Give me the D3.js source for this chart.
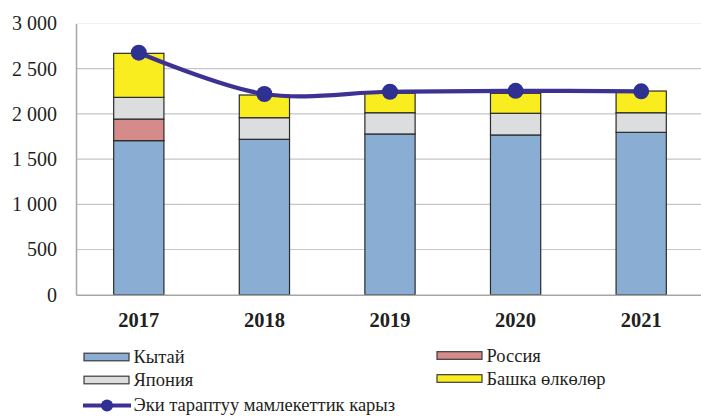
<!DOCTYPE html>
<html>
<head>
<meta charset="utf-8">
<script src="https://cdn.jsdelivr.net/npm/d3@7/dist/d3.min.js"></script>
<style>
  html, body { margin: 0; padding: 0; background: #fff; }
  svg { display: block; }
  text { font-family: "Liberation Serif", "Times New Roman", "DejaVu Serif", serif; fill: #231f20; }
</style>
</head>
<body>
<script>
const years = ["2017", "2018", "2019", "2020", "2021"];
const china = [1704, 1719, 1778, 1767, 1796];
const russia = [239, 0, 0, 0, 0];
const japan = [240, 239, 235, 240, 217];
const others = [487, 251, 215, 221, 240];
const bilateral = [2677, 2220, 2245, 2255, 2250];
const yTicks = [0, 500, 1000, 1500, 2000, 2500, 3000];

const seriesNames = ["Кытай", "Россия", "Япония", "Башка өлкөлөр"];
const seriesColors = ["#8aaed3", "#d68b8b", "#dcdddf", "#f9ed20"];
const lineName = "Эки тараптуу мамлекеттик карыз";

const FONT = '"Liberation Serif", "Times New Roman", "DejaVu Serif", serif';
const W = 701, H = 416;
const svg = d3.select("body").append("svg").attr("width", W).attr("height", H);

const x = d3.scaleBand().domain(years).range([76, 704]).paddingInner(0.6).paddingOuter(0.3);
const y = d3.scaleLinear().domain([0, 3000]).range([294.7, 23.5]);

// gridlines
svg.append("g").selectAll("line").data(yTicks.filter(d => d > 0)).join("line")
  .attr("x1", 76).attr("x2", 701)
  .attr("y1", d => y(d)).attr("y2", d => y(d))
  .attr("stroke", d => d === 3000 ? "#f1f1f1" : "#c6c6c6").attr("stroke-width", 1.2);

// y axis
const yAxis = d3.axisLeft(y).tickValues(yTicks).tickSize(0).tickPadding(19)
  .tickFormat(d => d3.format(",")(d).replace(/,/g, " "));
const gy = svg.append("g").attr("transform", "translate(76,0)").call(yAxis);
gy.attr("font-family", null);
gy.select(".domain").attr("stroke", "#a6a6a6").attr("stroke-width", 1.5);
gy.selectAll("text").style("font-size", "20px").style("font-family", FONT).style("fill", "#231f20");

// stacked bars
const table = years.map((yr, i) => ({ year: yr, s0: china[i], s1: russia[i], s2: japan[i], s3: others[i] }));
const stack = d3.stack().keys(["s0", "s1", "s2", "s3"])(table);
svg.append("g").selectAll("g").data(stack).join("g")
  .attr("fill", (d, i) => seriesColors[i])
  .selectAll("rect").data(d => d.filter(p => p[1] - p[0] > 0)).join("rect")
  .attr("x", d => x(d.data.year))
  .attr("width", x.bandwidth())
  .attr("y", d => y(d[1]))
  .attr("height", d => y(d[0]) - y(d[1]))
  .attr("stroke", "#2b2b2b").attr("stroke-width", 1.2);

// x axis
const xAxis = d3.axisBottom(x).tickSize(0).tickPadding(18);
const gx = svg.append("g").attr("transform", "translate(0,294.7)").call(xAxis);
gx.attr("font-family", null);
gx.select(".domain").attr("stroke", "#a6a6a6").attr("stroke-width", 1.5);
gx.selectAll("text").style("font-size", "20.5px").style("font-weight", "bold")
  .style("font-family", FONT).style("fill", "#231f20");

// line
const cx = d => x(d) + x.bandwidth() / 2;
const lineGen = d3.line().x((d, i) => cx(years[i])).y(d => y(d)).curve(d3.curveCatmullRom.alpha(0.5));
svg.append("path").datum(bilateral).attr("d", lineGen)
  .attr("fill", "none").attr("stroke", "#3d3293").attr("stroke-width", 4.2);
svg.append("g").selectAll("circle").data(bilateral).join("circle")
  .attr("cx", (d, i) => cx(years[i])).attr("cy", d => y(d)).attr("r", 8)
  .attr("fill", "#2e3192");

// legend
const legend = svg.append("g");
const legItems = [
  { name: seriesNames[0], color: seriesColors[0], x: 84, y: 357 },
  { name: seriesNames[1], color: seriesColors[1], x: 437, y: 355.5 },
  { name: seriesNames[2], color: seriesColors[2], x: 84, y: 380 },
  { name: seriesNames[3], color: seriesColors[3], x: 437, y: 378.5 }
];
legItems.forEach(it => {
  legend.append("rect").attr("x", it.x).attr("y", it.y - 3.8).attr("width", 45).attr("height", 7.6)
    .attr("fill", it.color).attr("stroke", "#3a3a3a").attr("stroke-width", 1.2);
  legend.append("text").attr("x", it.x + 49.5).attr("y", it.y + 6.3)
    .style("font-size", "18.5px").style("font-family", FONT).text(it.name);
});
legend.append("line").attr("x1", 83).attr("x2", 131).attr("y1", 405.5).attr("y2", 405.5)
  .attr("stroke", "#3d3293").attr("stroke-width", 4);
legend.append("circle").attr("cx", 107).attr("cy", 405.5).attr("r", 6).attr("fill", "#2e3192");
legend.append("text").attr("x", 133.5).attr("y", 411.3)
  .style("font-size", "18.5px").style("font-family", FONT).text(lineName);
</script>
</body>
</html>
